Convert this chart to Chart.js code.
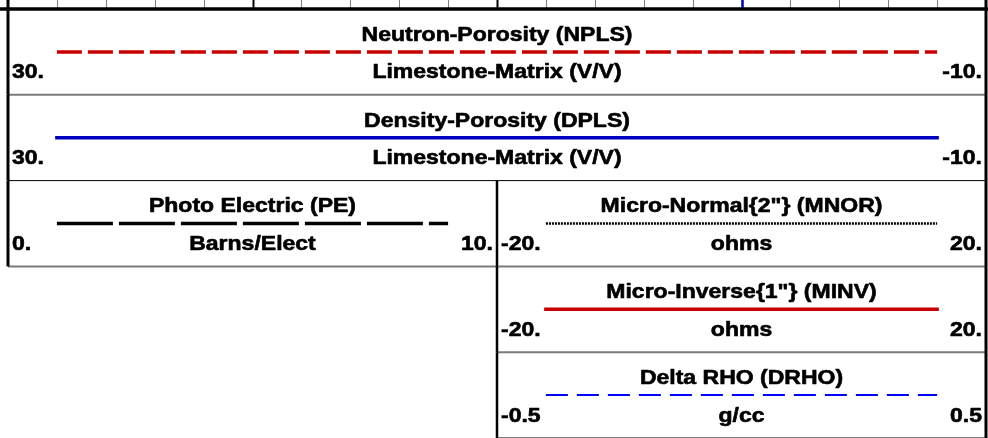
<!DOCTYPE html>
<html>
<head>
<meta charset="utf-8">
<script src="https://cdn.jsdelivr.net/npm/chart.js@4.4.1/dist/chart.umd.min.js"></script>
<style>
  html, body { margin: 0; padding: 0; background: #fff; }
  canvas { display: block; }
</style>
</head>
<body>
<canvas id="hdr" width="988" height="438"></canvas>
<script>
// Log header legend: one entry per curve
const curveMnemonics = ['NPLS', 'DPLS', 'PE', 'MNOR', 'MINV', 'DRHO'];
const curveTitles = [
    'Neutron-Porosity (NPLS)',
    'Density-Porosity (DPLS)',
    'Photo Electric (PE)',
    'Micro-Normal{2"} (MNOR)',
    'Micro-Inverse{1"} (MINV)',
    'Delta RHO (DRHO)'
];
const curveUnits = ['Limestone-Matrix (V/V)', 'Limestone-Matrix (V/V)', 'Barns/Elect', 'ohms', 'ohms', 'g/cc'];
const scaleLeft = ['30.', '30.', '0.', '-20.', '-20.', '-0.5'];
const scaleRight = ['-10.', '-10.', '10.', '20.', '20.', '0.5'];
const curveTrack = ['full', 'full', 'left', 'right', 'right', 'right'];
const curveRow = [0, 1, 2, 2, 3, 4];

// grid divisions of the track strip above the header
const GRID_DIVS = 20;
const ROWS = 5;

// track extents in grid units
const TRACKS = { full: [0, 20], left: [0, 10], right: [10, 20] };

// line styles per curve
const lineStyle = {
    NPLS: { color: '#c80000', width: 3.5, dash: [25, 6] },
    DPLS: { color: '#0000c0', width: 3.5, dash: [] },
    PE:   { color: '#000000', width: 3.5, dash: [56, 6] },
    MNOR: { color: '#000000', width: 2.5, dash: [2, 1] },
    MINV: { color: '#c80000', width: 3.5, dash: [] },
    DRHO: { color: '#0000ff', width: 2,   dash: [22, 9] }
};

const FONT = 'bold 20px "Liberation Sans", Arial, sans-serif';
const STRETCH = 1.15;
const LINE_OFF = 0.5;    // row fraction for the sample line
const TITLE_OFF = 0.37;  // baseline of the title
const LABEL_OFF = 0.81;  // baseline of units / scale labels

const datasets = curveMnemonics.map((m, i) => {
    const [a, b] = TRACKS[curveTrack[i]];
    const y = curveRow[i] + LINE_OFF;
    const s = lineStyle[m];
    return {
        label: m,
        data: [{ x: a + 1, y: y }, { x: b - 1, y: y }],
        showLine: true,
        borderColor: s.color,
        borderWidth: s.width,
        borderDash: s.dash,
        borderCapStyle: s.dash.length ? 'butt' : 'square',
        pointRadius: 0,
        fill: false
    };
});

function stretchedText(ctx, text, x, y, align) {
    ctx.save();
    ctx.translate(x, y);
    ctx.scale(STRETCH, 1);
    ctx.textAlign = align;
    ctx.strokeText(text, 0, 0);
    ctx.fillText(text, 0, 0);
    ctx.restore();
}

function seg(ctx, x0, y0, x1, y1, color, width) {
    ctx.beginPath();
    ctx.strokeStyle = color;
    ctx.lineWidth = width;
    ctx.moveTo(x0, y0);
    ctx.lineTo(x1, y1);
    ctx.stroke();
}

const headerPlugin = {
    id: 'logHeader',
    beforeDraw(chart) {
        const { ctx, width, height } = chart;
        ctx.save();
        ctx.fillStyle = '#fff';
        ctx.fillRect(0, 0, width, height);
        ctx.restore();
    },
    beforeDatasetsDraw(chart) {
        const { ctx, chartArea } = chart;
        const xs = chart.scales.x, ys = chart.scales.y;
        const top = chartArea.top;
        ctx.save();
        ctx.setLineDash([]);

        // track grid strip at the top
        xs.ticks.forEach(t => {
            const px = Math.round(xs.getPixelForValue(t.value)) + 0.5;
            let c = '#808080', w = 1;
            if (t.value === 5 || t.value === 10) { c = '#000'; w = 2; }
            if (t.value === 15) { c = '#0000c0'; w = 2.5; }
            seg(ctx, px, 0, px, top, c, w);
        });

        // cell boxes
        curveMnemonics.forEach((m, i) => {
            const [a, b] = TRACKS[curveTrack[i]];
            const r = curveRow[i];
            const yb = ys.getPixelForValue(r + 1);
            const x0 = xs.getPixelForValue(a), x1 = xs.getPixelForValue(b);
            seg(ctx, x0, yb, x1, yb, r === 1 ? '#000' : '#7a7a7a', r === 1 ? 1 : 2);
            if (a === 0) {
                seg(ctx, x0, ys.getPixelForValue(r), x0, yb, '#000', 3);
            }
            if (curveTrack[i] === 'right') {
                seg(ctx, x0, ys.getPixelForValue(r), x0, yb, '#000', 2.5);
            }
        });

        // right border and top rule
        const xr = xs.getPixelForValue(GRID_DIVS);
        seg(ctx, xr, 0, xr, chart.height, '#000', 3);
        seg(ctx, xs.getPixelForValue(0), 0, xs.getPixelForValue(0), top, '#000', 3);
        seg(ctx, 0, top, chart.width, top, '#000', 3.5);
        ctx.restore();
    },
    afterDatasetsDraw(chart) {
        const { ctx } = chart;
        const xs = chart.scales.x, ys = chart.scales.y;
        ctx.save();
        ctx.font = FONT;
        ctx.fillStyle = '#000';
        ctx.strokeStyle = '#000';
        ctx.lineWidth = 0.6;
        ctx.lineJoin = 'round';
        ctx.textBaseline = 'alphabetic';
        curveMnemonics.forEach((m, i) => {
            const [a, b] = TRACKS[curveTrack[i]];
            const r = curveRow[i];
            const x0 = xs.getPixelForValue(a), x1 = xs.getPixelForValue(b);
            const xc = (x0 + x1) / 2;
            stretchedText(ctx, curveTitles[i], xc, ys.getPixelForValue(r + TITLE_OFF), 'center');
            const yl = ys.getPixelForValue(r + LABEL_OFF);
            stretchedText(ctx, curveUnits[i], xc, yl, 'center');
            stretchedText(ctx, scaleLeft[i], x0 + 4, yl, 'left');
            stretchedText(ctx, scaleRight[i], x1 - 4, yl, 'right');
        });
        ctx.restore();
    }
};

new Chart(document.getElementById('hdr'), {
    type: 'scatter',
    data: { datasets },
    options: {
        responsive: false,
        animation: false,
        events: [],
        layout: { padding: { left: 8, right: 2, top: 9, bottom: 0 } },
        plugins: { legend: { display: false }, tooltip: { enabled: false } },
        scales: {
            x: { type: 'linear', min: 0, max: GRID_DIVS, display: false, ticks: { stepSize: 1 } },
            y: { type: 'linear', min: 0, max: ROWS, reverse: true, display: false }
        }
    },
    plugins: [headerPlugin]
});
</script>
</body>
</html>
